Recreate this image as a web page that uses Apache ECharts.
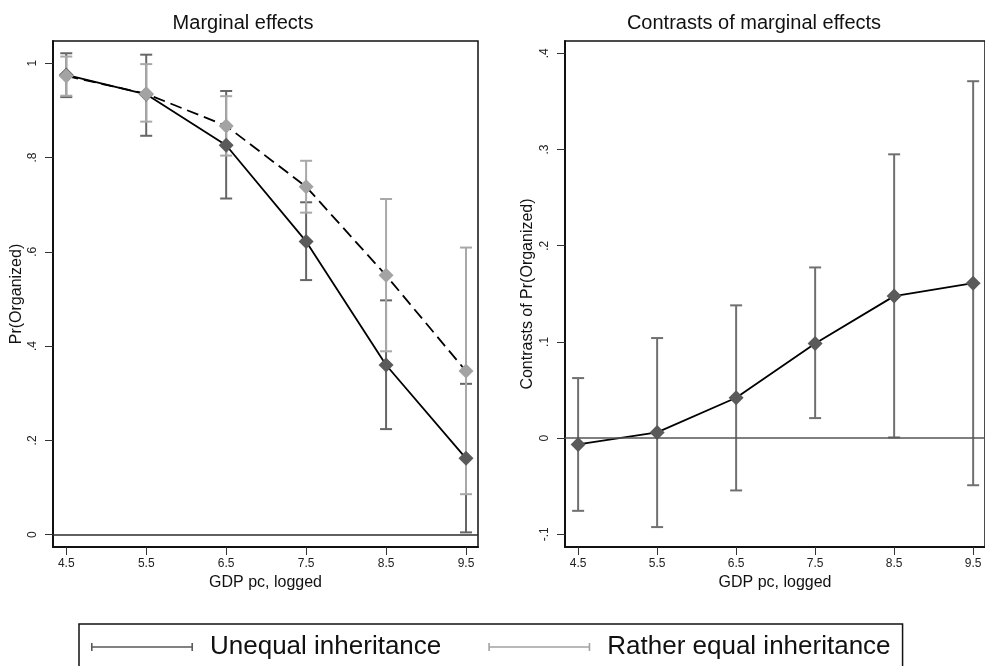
<!DOCTYPE html>
<html>
<head>
<meta charset="utf-8">
<script src="https://cdn.jsdelivr.net/npm/echarts@6/dist/echarts.min.js"></script>
<style>
html,body{margin:0;padding:0;background:#fff;}
#chart{width:985px;height:666px;}
</style>
</head>
<body>
<div id="chart"></div>
<script>
// ---- data ----
const xValues = [4.5, 5.5, 6.5, 7.5, 8.5, 9.5];
const xTickLabels = ['4.5', '5.5', '6.5', '7.5', '8.5', '9.5'];

const unequalMean = [0.975, 0.934, 0.826, 0.622, 0.360, 0.162];
const unequalLow  = [0.928, 0.846, 0.713, 0.540, 0.224, 0.005];
const unequalHigh = [1.021, 1.018, 0.941, 0.705, 0.497, 0.320];

const equalMean = [0.973, 0.935, 0.867, 0.738, 0.550, 0.347];
const equalLow  = [0.931, 0.876, 0.804, 0.683, 0.389, 0.086];
const equalHigh = [1.014, 0.998, 0.930, 0.793, 0.712, 0.609];

const contrastMean = [-0.0066, 0.0059, 0.0419, 0.0984, 0.1476, 0.161];
const contrastLow  = [-0.0756, -0.0925, -0.0544, 0.0208, 0.0007, -0.049];
const contrastHigh = [0.0624, 0.104, 0.138, 0.1774, 0.295, 0.371];

const leftYTicks = [0, 0.2, 0.4, 0.6, 0.8, 1];
const leftYLabels = ['0', '.2', '.4', '.6', '.8', '1'];
const rightYTicks = [-0.1, 0, 0.1, 0.2, 0.3, 0.4];
const rightYLabels = ['-.1', '0', '.1', '.2', '.3', '.4'];

const seriesNames = ['Unequal inheritance', 'Rather equal inheritance'];
const titles = ['Marginal effects', 'Contrasts of marginal effects'];
const xName = 'GDP pc, logged';
const yNames = ['Pr(Organized)', 'Contrasts of Pr(Organized)'];

// ---- styling ----
const FONT = '"Liberation Sans", Arial, Helvetica, sans-serif';
const DARK = '#5a5a5a';
const DARK_CI = '#666666';
const LIGHT = '#a3a3a3';
const LIGHT_CI = '#a8a8a8';

function pairs(a, b) { return a.map((v, i) => [v, b[i]]); }
function triples(x, lo, hi) { return x.map((v, i) => [v, lo[i], hi[i]]); }

function errorBar(color) {
  return function (params, api) {
    const x = api.value(0), lo = api.value(1), hi = api.value(2);
    const a = api.coord([x, lo]);
    const b = api.coord([x, hi]);
    const hw = 6;
    const st = { stroke: color, lineWidth: 2 };
    return {
      type: 'group',
      children: [
        { type: 'line', shape: { x1: a[0], y1: a[1], x2: b[0], y2: b[1] }, style: st },
        { type: 'line', shape: { x1: a[0] - hw, y1: a[1], x2: a[0] + hw, y2: a[1] }, style: st },
        { type: 'line', shape: { x1: b[0] - hw, y1: b[1], x2: b[0] + hw, y2: b[1] }, style: st }
      ]
    };
  };
}

function xAxisFor(idx) {
  return {
    type: 'value', gridIndex: idx, min: 4.334, max: 9.65,
    name: xName, nameLocation: 'middle', nameGap: 24,
    nameTextStyle: { fontFamily: FONT, fontSize: 16, color: '#111' },
    axisLine: { show: true, onZero: false, lineStyle: { color: '#111', width: 2 } },
    axisTick: { show: true, length: 8, lineStyle: { color: '#333', width: 1 }, customValues: xValues },
    axisLabel: { fontFamily: FONT, fontSize: 12, color: '#222', margin: 11,
      customValues: xValues,
      formatter: v => { const i = xValues.indexOf(v); return i >= 0 ? xTickLabels[i] : ''; } },
    splitLine: { show: false }
  };
}

function yAxisFor(idx, min, max, ticks, labels, name, gap) {
  return {
    type: 'value', gridIndex: idx, min: min, max: max,
    name: name, nameLocation: 'middle', nameGap: gap, nameRotate: 90,
    nameTextStyle: { fontFamily: FONT, fontSize: 16, color: '#111' },
    axisLine: { show: true, onZero: false, lineStyle: { color: '#111', width: 2 } },
    axisTick: { show: true, length: 8, lineStyle: { color: '#333', width: 1 }, customValues: ticks },
    axisLabel: { fontFamily: FONT, fontSize: 12, color: '#222', rotate: 90, margin: 14,
      customValues: ticks,
      formatter: v => { const i = ticks.findIndex(t => Math.abs(t - v) < 1e-9); return i >= 0 ? labels[i] : ''; } },
    splitLine: { show: false }
  };
}

const zeroLine = (color) => ({
  silent: true, symbol: 'none', animation: false,
  label: { show: false },
  lineStyle: { color: color, width: 1.5, type: 'solid' },
  data: [{ yAxis: 0 }]
});

const legendIcon = 'path://M0,1L1.6,1L1.6,4.2L100.4,4.2L100.4,1L102,1L102,9L100.4,9L100.4,5.8L1.6,5.8L1.6,9L0,9Z';

const option = {
  animation: false,
  backgroundColor: '#ffffff',
  title: [
    { text: titles[0], left: 243, top: 13, textAlign: 'center', padding: 0,
      textStyle: { fontFamily: FONT, fontSize: 20, fontWeight: 'normal', color: '#111' } },
    { text: titles[1], left: 754, top: 13, textAlign: 'center', padding: 0,
      textStyle: { fontFamily: FONT, fontSize: 20, fontWeight: 'normal', color: '#111' } }
  ],
  grid: [
    { left: 53, top: 41, width: 425, height: 506, show: true, borderColor: '#111', borderWidth: 1.5, backgroundColor: 'transparent' },
    { left: 565, top: 41, width: 425, height: 506, show: true, borderColor: '#111', borderWidth: 1.5, backgroundColor: 'transparent' }
  ],
  xAxis: [xAxisFor(0), xAxisFor(1)],
  yAxis: [
    yAxisFor(0, -0.026, 1.047, leftYTicks, leftYLabels, yNames[0], 28),
    yAxisFor(1, -0.1132, 0.4128, rightYTicks, rightYLabels, yNames[1], 29)
  ],
  legend: {
    show: true, orient: 'horizontal', left: 79, top: 624,
    padding: [10, 12, 12, 12], borderColor: '#111', borderWidth: 1.5, borderRadius: 0,
    itemWidth: 102, itemHeight: 10, itemGap: 47,
    textStyle: { fontFamily: FONT, fontSize: 26, color: '#111', padding: [0, 0, 0, 12] },
    data: [
      { name: seriesNames[0], icon: legendIcon, itemStyle: { color: DARK } },
      { name: seriesNames[1], icon: legendIcon, itemStyle: { color: LIGHT } }
    ],
    selectedMode: false
  },
  series: [
    { type: 'custom', name: 'ci-unequal', xAxisIndex: 0, yAxisIndex: 0, z: 2,
      renderItem: errorBar(DARK_CI), data: triples(xValues, unequalLow, unequalHigh),
      markLine: zeroLine('#2b2b2b') },
    { type: 'custom', name: 'ci-equal', xAxisIndex: 0, yAxisIndex: 0, z: 3,
      renderItem: errorBar(LIGHT_CI), data: triples(xValues, equalLow, equalHigh) },
    { type: 'line', name: seriesNames[0], xAxisIndex: 0, yAxisIndex: 0, z: 4,
      data: pairs(xValues, unequalMean),
      symbol: 'diamond', symbolSize: 15,
      itemStyle: { color: DARK },
      lineStyle: { color: '#000', width: 1.8, type: 'solid' } },
    { type: 'line', name: seriesNames[1], xAxisIndex: 0, yAxisIndex: 0, z: 5,
      data: pairs(xValues, equalMean),
      symbol: 'diamond', symbolSize: 15,
      itemStyle: { color: LIGHT },
      lineStyle: { color: '#000', width: 1.8, type: [12, 6] } },
    { type: 'custom', name: 'ci-contrast', xAxisIndex: 1, yAxisIndex: 1, z: 2,
      renderItem: errorBar('#707070'), data: triples(xValues, contrastLow, contrastHigh),
      markLine: zeroLine('#555555') },
    { type: 'line', name: 'contrast', xAxisIndex: 1, yAxisIndex: 1, z: 4,
      data: pairs(xValues, contrastMean),
      symbol: 'diamond', symbolSize: 15,
      itemStyle: { color: DARK },
      lineStyle: { color: '#000', width: 1.8, type: 'solid' } }
  ]
};

const chart = echarts.init(document.getElementById('chart'), null, { renderer: 'canvas' });
chart.setOption(option);
</script>
</body>
</html>
